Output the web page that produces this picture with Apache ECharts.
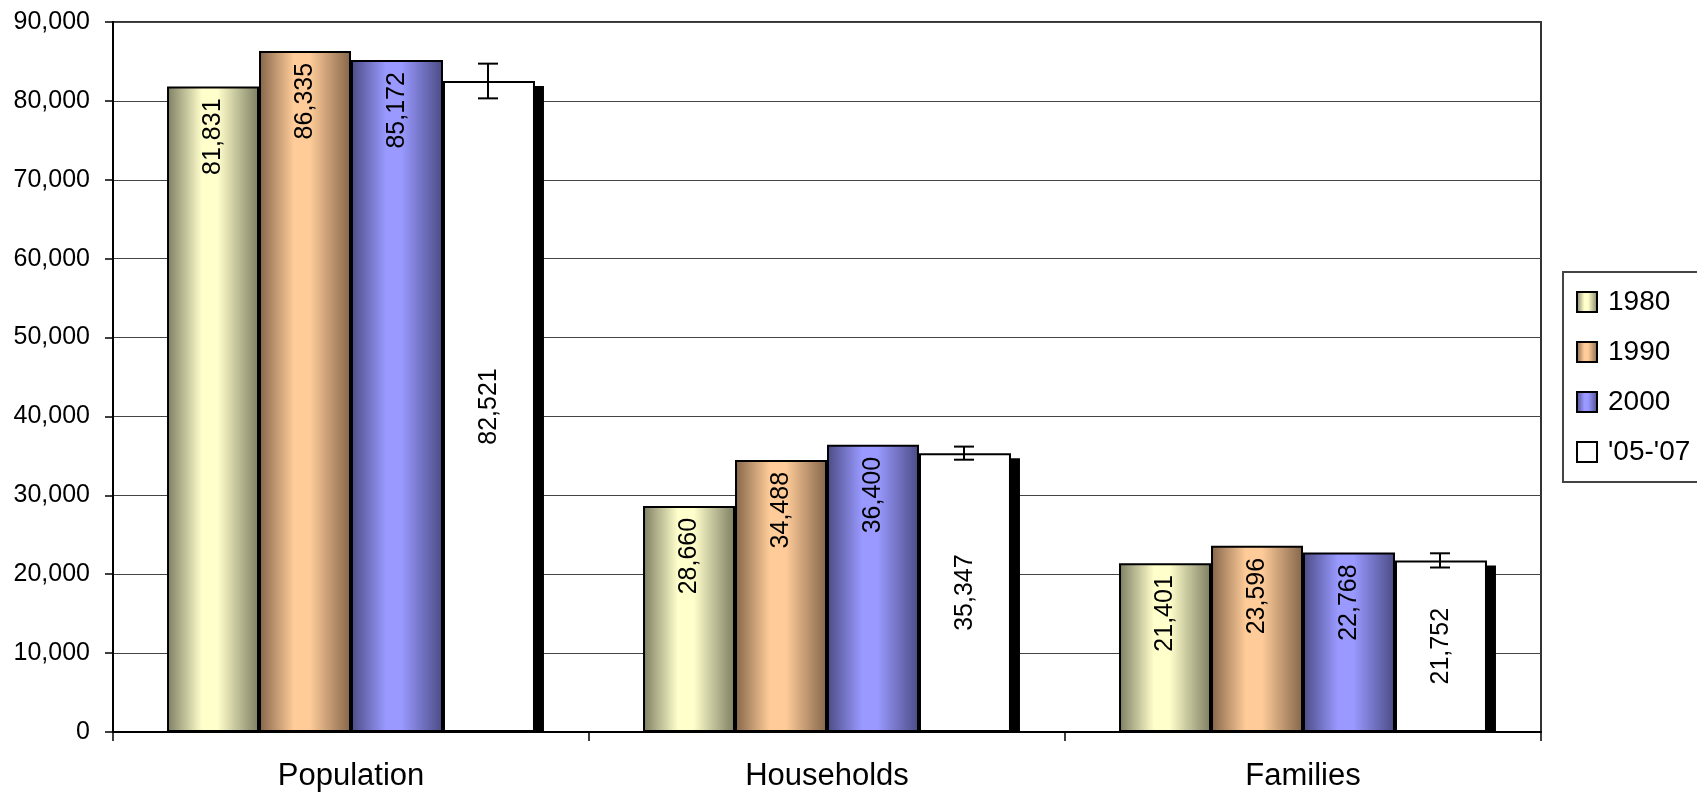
<!DOCTYPE html>
<html>
<head>
<meta charset="utf-8">
<script src="https://cdn.jsdelivr.net/npm/echarts@6/dist/echarts.min.js"></script>
<style>
html,body{margin:0;padding:0;background:#fff;}
#chart{width:1697px;height:795px;}
</style>
</head>
<body>
<div id="chart"></div>
<script>
const categories = ['Population', 'Households', 'Families'];
const seriesNames = ['1980', '1990', '2000', "'05-'07"];
const values1980 = [81831, 28660, 21401];
const values1990 = [86335, 34488, 23596];
const values2000 = [85172, 36400, 22768];
const values0507 = [82521, 35347, 21752];
const margin0507 = [2200, 830, 900];
const yTicks = { min: 0, max: 90000, interval: 10000 };

const FONT = '"Liberation Sans", Arial, sans-serif';
const GAP = 0.227;

function grad(dark, light) {
  return new echarts.graphic.LinearGradient(0, 0, 1, 0, [
    { offset: 0, color: dark },
    { offset: 0.38, color: light },
    { offset: 0.55, color: light },
    { offset: 1, color: dark }
  ]);
}
const fills = [
  grad('#7d7d62', '#ffffcc'),
  grad('#84654a', '#ffcc99'),
  grad('#4b4b85', '#9999ff'),
  '#ffffff'
];
const seriesData = [values1980, values1990, values2000, values0507];

const fmt = v => v.toLocaleString('en-US');

const barSeries = seriesData.map((arr, i) => ({
  name: seriesNames[i],
  type: 'bar',
  data: arr,
  barGap: '0%',
  barCategoryGap: (GAP * 100) + '%',
  z: 2,
  itemStyle: { color: fills[i], borderColor: '#000', borderWidth: 2 },
  label: i < 3 ? {
    show: true, position: 'insideTop', rotate: 90, align: 'right', verticalAlign: 'middle',
    distance: 12, fontFamily: FONT, fontSize: 25, color: '#000',
    formatter: p => fmt(p.value)
  } : {
    show: true, position: 'inside', rotate: 90, align: 'center', verticalAlign: 'middle',
    fontFamily: FONT, fontSize: 25, color: '#000',
    formatter: p => fmt(p.value)
  },
  emphasis: { disabled: true }
}));

function barGeom(api, cat) {
  const band = api.size([1, 0])[0];
  const bw = band * (1 - GAP) / 4;
  const cx = api.coord([cat, 0])[0];
  const left = cx - 2 * bw + 3 * bw;
  return { bw, left };
}

const shadowData = values0507.map((v, i) => [i, v]);
const errData = values0507.map((v, i) => [i, v, margin0507[i]]);

const shadowSeries = {
  type: 'custom',
  name: 'shadow',
  z: 1,
  silent: true,
  data: shadowData,
  encode: { x: 0, y: 1 },
  renderItem: (params, api) => {
    const cat = api.value(0), val = api.value(1);
    const g = barGeom(api, cat);
    const top = api.coord([cat, val])[1] + 5;
    const bottom = api.coord([cat, 0])[1];
    return {
      type: 'rect',
      shape: { x: g.left + 9, y: top, width: g.bw, height: bottom - top },
      style: { fill: '#000' }
    };
  }
};

const errSeries = {
  type: 'custom',
  name: 'err',
  z: 5,
  silent: true,
  data: errData,
  encode: { x: 0, y: 1 },
  renderItem: (params, api) => {
    const cat = api.value(0), val = api.value(1), e = api.value(2);
    const g = barGeom(api, cat);
    const x = g.left + g.bw / 2 - 1;
    const yt = api.coord([cat, val + e])[1];
    const yb = api.coord([cat, val - e])[1];
    const cap = 10;
    const st = { stroke: '#000', lineWidth: 2 };
    return {
      type: 'group',
      children: [
        { type: 'line', shape: { x1: x, y1: yt, x2: x, y2: yb }, style: st },
        { type: 'line', shape: { x1: x - cap, y1: yt, x2: x + cap, y2: yt }, style: st },
        { type: 'line', shape: { x1: x - cap, y1: yb, x2: x + cap, y2: yb }, style: st }
      ]
    };
  }
};

const chart = echarts.init(document.getElementById('chart'), null, { renderer: 'canvas' });
chart.setOption({
  animation: false,
  backgroundColor: '#fff',
  grid: {
    left: 113, right: 156, top: 22, bottom: 63,
    show: true, borderColor: '#333', borderWidth: 2, backgroundColor: 'transparent'
  },
  legend: {
    data: seriesNames,
    orient: 'vertical',
    left: 1563, top: 272,
    padding: [16, 30, 16, 13],
    itemGap: 22,
    itemWidth: 20, itemHeight: 20,
    icon: 'rect',
    borderColor: '#444', borderWidth: 2,
    selectedMode: false,
    textStyle: { fontFamily: FONT, fontSize: 28, color: '#000', lineHeight: 28, padding: [0, 0, 0, 6] }
  },
  xAxis: {
    type: 'category',
    data: categories,
    boundaryGap: true,
    axisLine: { lineStyle: { color: '#000', width: 2 } },
    axisTick: { show: true, length: 9, lineStyle: { color: '#000', width: 1.5 } },
    axisLabel: { fontFamily: FONT, fontSize: 31, color: '#000', margin: 29 },
    splitLine: { show: false }
  },
  yAxis: {
    type: 'value',
    min: yTicks.min, max: yTicks.max, interval: yTicks.interval,
    axisLine: { show: true, lineStyle: { color: '#000', width: 2 } },
    axisTick: { show: true, length: 8, lineStyle: { color: '#000', width: 1.5 } },
    axisLabel: { fontFamily: FONT, fontSize: 25, color: '#000', margin: 23, formatter: v => fmt(v) },
    splitLine: { show: true, lineStyle: { color: '#444', width: 1 } }
  },
  series: [shadowSeries, ...barSeries, errSeries]
});
</script>
</body>
</html>
